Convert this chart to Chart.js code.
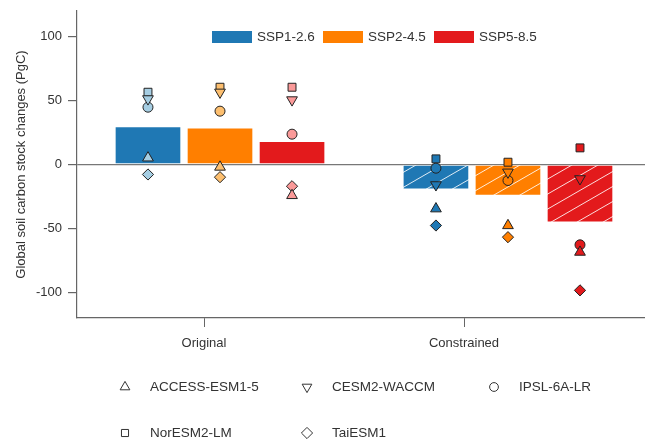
<!DOCTYPE html>
<html>
<head>
<meta charset="utf-8">
<script src="https://cdn.jsdelivr.net/npm/chart.js@4/dist/chart.umd.min.js"></script>
<style>
  html, body { margin: 0; padding: 0; background: #fff; }
  #wrap { width: 645px; height: 442px; position: relative; }
</style>
</head>
<body>
<div id="wrap"><canvas id="c" width="645" height="442"></canvas></div>
<script>
// ---- data ----
const groups = ['Original', 'Constrained'];
const scenarios = ['SSP1-2.6', 'SSP2-4.5', 'SSP5-8.5'];
const yTicks = [-100, -50, 0, 50, 100];
// multi-model mean bars: [SSP1-2.6, SSP2-4.5, SSP5-8.5]
const meanOriginal = [29.7, 28.6, 18.2];
const meanConstrained = [-19.3, -24.2, -45.0];
const models = ['ACCESS-ESM1-5', 'CESM2-WACCM', 'IPSL-6A-LR', 'NorESM2-LM', 'TaiESM1'];
// per model values [SSP1-2.6, SSP2-4.5, SSP5-8.5]
const accessOriginal = [5.2, -2.0, -24.2];
const accessConstrained = [-34.6, -47.7, -68.5];
const cesmOriginal = [51.3, 56.5, 50.5];
const cesmConstrained = [-15.9, -6.0, -11.2];
const ipslOriginal = [44.8, 41.7, 23.7];
const ipslConstrained = [-2.9, -12.5, -62.8];
const norOriginal = [56.5, 60.4, 60.4];
const norConstrained = [4.4, 1.8, 13.0];
const taiOriginal = [-7.8, -9.9, -17.0];
const taiConstrained = [-47.7, -56.8, -98.4];

// ---- styling / layout ----
const darkColors = ['#1f78b4', '#ff7f00', '#e31a1c'];
const lightColors = ['#a6cee3', '#fdbf6f', '#fb9a99'];
const groupCenters = [0.0615, 1.169];   // x-position of middle bar of each group
const barOffset = 0.277;                // spacing between bars within a group
const tickPositions = [0, 1];

function hatch(color) {
  const w = 26, h = 15;
  const cv = document.createElement('canvas');
  cv.width = w; cv.height = h;
  const g = cv.getContext('2d');
  g.fillStyle = color; g.fillRect(0, 0, w, h);
  g.strokeStyle = 'rgba(255,255,255,0.85)';
  g.lineWidth = 1;
  g.beginPath();
  for (let k = -1; k <= 1; k++) {
    g.moveTo(-w + k * w, 2 * h); g.lineTo(2 * w + k * w, -h);
  }
  g.stroke();
  return g.createPattern(cv, 'repeat');
}

const xOf = (gi, si) => groupCenters[gi] + (si - 1) * barOffset;

const barSets = scenarios.map((s, si) => ({
  type: 'bar',
  label: s,
  data: [{ x: xOf(0, si), y: meanOriginal[si] }, { x: xOf(1, si), y: meanConstrained[si] }],
  backgroundColor: [darkColors[si], hatch(darkColors[si])],
  borderColor: 'rgba(255,255,255,0.35)',
  borderWidth: 1,
  borderSkipped: false,
  barThickness: 66,
  grouped: false,
  order: 2
}));

const modelDefs = [
  { o: accessOriginal, c: accessConstrained, style: 'triangle', rot: 0, r: 6.2 },
  { o: cesmOriginal, c: cesmConstrained, style: 'triangle', rot: 180, r: 6.2 },
  { o: ipslOriginal, c: ipslConstrained, style: 'circle', rot: 0, r: 5 },
  { o: norOriginal, c: norConstrained, style: 'rect', rot: 0, r: 5.6 },
  { o: taiOriginal, c: taiConstrained, style: 'rectRot', rot: 0, r: 5.6 }
];

const pointSets = modelDefs.map((m, mi) => {
  const data = [], fills = [];
  for (let si = 0; si < 3; si++) { data.push({ x: xOf(0, si), y: m.o[si] }); fills.push(lightColors[si]); }
  for (let si = 0; si < 3; si++) { data.push({ x: xOf(1, si), y: m.c[si] }); fills.push(darkColors[si]); }
  return {
    type: 'scatter',
    label: models[mi],
    data: data,
    pointStyle: m.style,
    rotation: m.rot,
    pointRadius: m.r,
    pointHoverRadius: m.r,
    pointBackgroundColor: fills,
    pointBorderColor: '#222',
    pointBorderWidth: 1,
    order: 1
  };
});

const FONT = 'Liberation Sans, Arial, sans-serif';

const legendPlugin = {
  id: 'legends',
  afterDraw(chart) {
    const ctx = chart.ctx;
    ctx.save();
    // top legend (scenarios)
    ctx.font = '13.5px ' + FONT;
    ctx.textBaseline = 'middle';
    ctx.textAlign = 'left';
    let x = 212;
    const yTop = 37;
    scenarios.forEach((s, i) => {
      ctx.fillStyle = darkColors[i];
      ctx.fillRect(x, yTop - 6, 40, 12);
      ctx.fillStyle = '#333';
      ctx.fillText(s, x + 45, yTop);
      x += 111;
    });
    // bottom legend (models)
    const colX = [125, 307, 494];
    const rowY = [387, 433];
    const legR = { triangle: 5.6, circle: 4.4, rect: 5, rectRot: 5.6 };
    modelDefs.forEach((m, i) => {
      const cx = colX[i % 3], cy = rowY[Math.floor(i / 3)];
      ctx.lineWidth = 1;
      ctx.strokeStyle = '#333';
      ctx.fillStyle = '#fff';
      Chart.helpers.drawPoint(ctx, { pointStyle: m.style, rotation: m.rot, radius: legR[m.style], borderWidth: 1 }, cx, cy);
      ctx.fillStyle = '#333';
      ctx.font = '13.5px ' + FONT;
      ctx.fillText(models[i], cx + 25, cy);
    });
    ctx.restore();
  }
};

new Chart(document.getElementById('c'), {
  data: { datasets: [...barSets, ...pointSets] },
  options: {
    responsive: false,
    animation: false,
    layout: { autoPadding: false, padding: { top: 11, left: 0, right: 0, bottom: 0 } },
    plugins: { legend: { display: false }, tooltip: { enabled: false } },
    scales: {
      x: {
        type: 'linear',
        offset: false,
        min: -0.4885,
        max: 1.696,
        afterBuildTicks: (s) => { s.ticks = tickPositions.map(v => ({ value: v })); },
        afterFit: (s) => { s.height = 124; s.paddingLeft = 0; s.paddingRight = 0; },
        ticks: {
          callback: (v, i) => groups[i],
          color: '#333',
          font: { family: FONT, size: 13 },
          padding: 9,
          maxRotation: 0
        },
        grid: { offset: false, drawOnChartArea: false, tickLength: 9, tickColor: '#666' },
        border: { display: true, color: '#666', width: 1.2 }
      },
      y: {
        min: -120,
        max: 120,
        afterBuildTicks: (s) => { s.ticks = yTicks.map(v => ({ value: v })); },
        afterFit: (s) => { s.width = 77; s.paddingTop = 0; s.paddingBottom = 0; },
        ticks: { color: '#333', font: { family: FONT, size: 13 }, padding: 6 },
        grid: {
          color: (c) => (c.tick && c.tick.value === 0 ? '#777' : 'rgba(0,0,0,0)'),
          lineWidth: 1.2,
          tickLength: 9,
          tickColor: '#666'
        },
        border: { display: true, color: '#666', width: 1.2 },
        title: {
          display: true,
          text: 'Global soil carbon stock changes (PgC)',
          color: '#333',
          font: { family: FONT, size: 13 },
          padding: { top: 14, bottom: 0 }
        }
      }
    }
  },
  plugins: [legendPlugin]
});
</script>
</body>
</html>
